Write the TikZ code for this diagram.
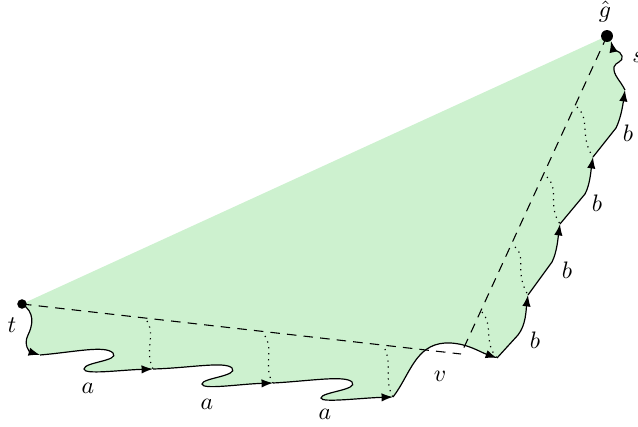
\documentclass[tikz,border=0pt]{standalone}
\usetikzlibrary{arrows.meta}
\definecolor{regiongreen}{RGB}{205,241,207}
\begin{document}
\begin{tikzpicture}[x=0.42pt,y=-0.42pt,
  edge/.style={line width=0.5pt,-{Latex[length=4.8pt,width=3.5pt]}},
  guide/.style={line width=0.45pt,dash pattern=on 4pt off 3pt},
  link/.style={line width=0.5pt,dotted},
  lbl/.style={inner sep=0pt}]
\useasboundingbox (0,0) rectangle (638,427);
% points
\coordinate (pt) at (22,304);
\coordinate (pg) at (607,36);
\coordinate (A0) at (40,355);
\coordinate (A1) at (153,369);
\coordinate (A2) at (273,383);
\coordinate (A3) at (393,397);
\coordinate (V) at (497,358);
\coordinate (B1) at (528,295);
\coordinate (B2) at (560,224);
\coordinate (B3) at (593,157);
\coordinate (B4) at (625,90);
\coordinate (X) at (461,354);
\coordinate (S) at (611,41);
% region
\fill[regiongreen] (pt) .. controls (35,312) and (33,325) .. (28,335) .. controls (23,345) and (30,352) .. (A0)
  .. controls (75,352) and (105,345) .. (113,353) .. controls (120,361) and (84,362) .. (84,369) .. controls (84,375) and (120,370) .. (A1)
  .. controls (190,368) and (225,361) .. (232,368) .. controls (239,376) and (202,378) .. (202,384) .. controls (202,390) and (240,384) .. (A2)
  .. controls (310,381) and (345,375) .. (352,382) .. controls (359,390) and (321,392) .. (321,398) .. controls (321,403) and (360,398) .. (A3)
  .. controls (410,375) and (415,345) .. (445,343) .. controls (465,342) and (480,352) .. (V)
  -- (518,335) .. controls (526,325) and (526,310) .. (B1)
  -- (552,262) .. controls (557,252) and (558,238) .. (B2)
  -- (585,194) .. controls (590,185) and (591,170) .. (B3)
  -- (616,128) .. controls (621,118) and (623,104) .. (B4)
  .. controls (620,80) and (613,75) .. (614,67) .. controls (615,62) and (624,62) .. (622,56) .. controls (620,50) and (613,50) .. (S)
  -- (pg) -- cycle;
% guides
\draw[guide] (pt) -- (X);
\draw[guide] (pg) -- (X);
% dotted links
\draw[link] (147,321) .. controls (156,335) and (144,350) .. (A1);
\draw[link] (265,336) .. controls (274,350) and (263,368) .. (A2);
\draw[link] (385,349) .. controls (392,365) and (384,382) .. (A3);
\draw[link] (482,312) .. controls (494,326) and (483,342) .. (V);
\draw[link] (515,247) .. controls (527,256) and (514,272) .. (B1);
\draw[link] (547,177) .. controls (560,190) and (547,205) .. (B2);
\draw[link] (577,107) .. controls (591,120) and (579,136) .. (B3);
% path segments
\draw[edge] (pt) .. controls (35,312) and (33,325) .. (28,335) .. controls (23,345) and (30,352) .. (A0);
\draw[edge] (A0) .. controls (75,352) and (105,345) .. (113,353) .. controls (120,361) and (84,362) .. (84,369) .. controls (84,375) and (120,370) .. (A1);
\draw[edge] (A1) .. controls (190,368) and (225,361) .. (232,368) .. controls (239,376) and (202,378) .. (202,384) .. controls (202,390) and (240,384) .. (A2);
\draw[edge] (A2) .. controls (310,381) and (345,375) .. (352,382) .. controls (359,390) and (321,392) .. (321,398) .. controls (321,403) and (360,398) .. (A3);
\draw[edge] (A3) .. controls (410,375) and (415,345) .. (445,343) .. controls (465,342) and (480,352) .. (V);
\draw[edge] (V) -- (518,335) .. controls (526,325) and (526,310) .. (B1);
\draw[edge] (B1) -- (552,262) .. controls (557,252) and (558,238) .. (B2);
\draw[edge] (B2) -- (585,194) .. controls (590,185) and (591,170) .. (B3);
\draw[edge] (B3) -- (616,128) .. controls (621,118) and (623,104) .. (B4);
\draw[edge] (B4) .. controls (620,80) and (613,75) .. (614,67) .. controls (615,62) and (624,62) .. (622,56) .. controls (620,50) and (613,50) .. (S);
% dots
\node[circle,fill,inner sep=0pt,minimum size=4pt] (t) at (pt) {};
\node[circle,fill,inner sep=0pt,minimum size=5pt] (g) at (pg) {};
% labels
\node[lbl] (lt) at (12,325) {$t$};
\node[lbl] (lg) at (605,12) {$\hat g$};
\node[lbl] (ls) at (638,57) {$s$};
\node[lbl] (la1) at (88,388) {$a$};
\node[lbl] (la2) at (207,404) {$a$};
\node[lbl] (la3) at (325,414) {$a$};
\node[lbl] (lv) at (440,376) {$v$};
\node[lbl] (lb1) at (535,340) {$b$};
\node[lbl] (lb2) at (567,270) {$b$};
\node[lbl] (lb3) at (597,203) {$b$};
\node[lbl] (lb4) at (628,133) {$b$};
\end{tikzpicture}
\end{document}
